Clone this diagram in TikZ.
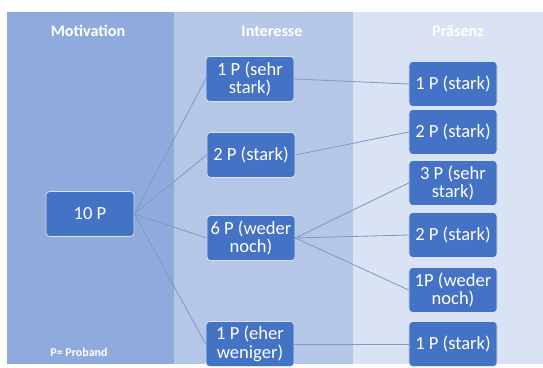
\documentclass[tikz,border=0pt]{standalone}
\usepackage{fontspec}
\setmainfont{Carlito}
\definecolor{laneA}{HTML}{8FAADC}
\definecolor{laneB}{HTML}{B4C7E7}
\definecolor{laneC}{HTML}{DAE3F3}
\definecolor{boxblue}{HTML}{4472C4}
\definecolor{linkcol}{HTML}{7F99C8}
\begin{document}
\begin{tikzpicture}[x=0.025cm, y=-0.025cm, line join=round, line cap=round,
		box/.style={draw=white!80!boxblue, line width=0.5pt, fill=boxblue, rounded corners=2.5pt, text=white, align=center,
			minimum width=2.2cm, minimum height=1.12cm, inner sep=1pt, font=\fontsize{13.2}{13.5}\selectfont},
		head/.style={text=white, font=\fontsize{11.5}{13}\selectfont\bfseries},
		link/.style={draw=linkcol, line width=0.6pt}]
		\useasboundingbox (0,0) rectangle (543,367);
		% lanes
		\fill[laneA] (7,12) rectangle (174,364);
		\fill[laneB] (174,12) rectangle (353,364);
		\fill[laneC] (353,12) rectangle (543,364);
		\node[head] (hm) at (88,31) {Motivation};
		\node[head] (hi) at (272,31) {Interesse};
		\node[head] (hp) at (458,31) {Präsenz};
		\node[text=white, font=\fontsize{8.5}{10}\selectfont\bfseries] (note) at (79,352) {P= Proband};
		% boxes
		\node[box] (m) at (90,214) {10 P};
		\node[box] (i1) at (250,79) {1 P (sehr\\stark)};
		\node[box] (i2) at (251,155) {2 P (stark)};
		\node[box] (i3) at (251,238) {6 P (weder\\noch)};
		\node[box] (i4) at (250,344) {1 P (eher\\weniger)};
		\node[box] (p1) at (453,84) {1 P (stark)};
		\node[box] (p2) at (453,132) {2 P (stark)};
		\node[box] (p3) at (453,183) {3 P (sehr\\stark)};
		\node[box] (p4) at (453,235) {2 P (stark)};
		\node[box] (p5) at (453,290) {1P (weder\\noch)};
		\node[box] (p6) at (453,344) {1 P (stark)};
		% links
		\foreach \x in {i1,i2,i3,i4} \draw[link] (m.east)--(\x.west);
		\draw[link] (i1.east)--(p1.west);
		\draw[link] (i2.east)--(p2.west);
		\foreach \x in {p3,p4,p5} \draw[link] (i3.east)--(\x.west);
		\draw[link] (i4.east)--(p6.west);
		\end{tikzpicture}
\end{document}
